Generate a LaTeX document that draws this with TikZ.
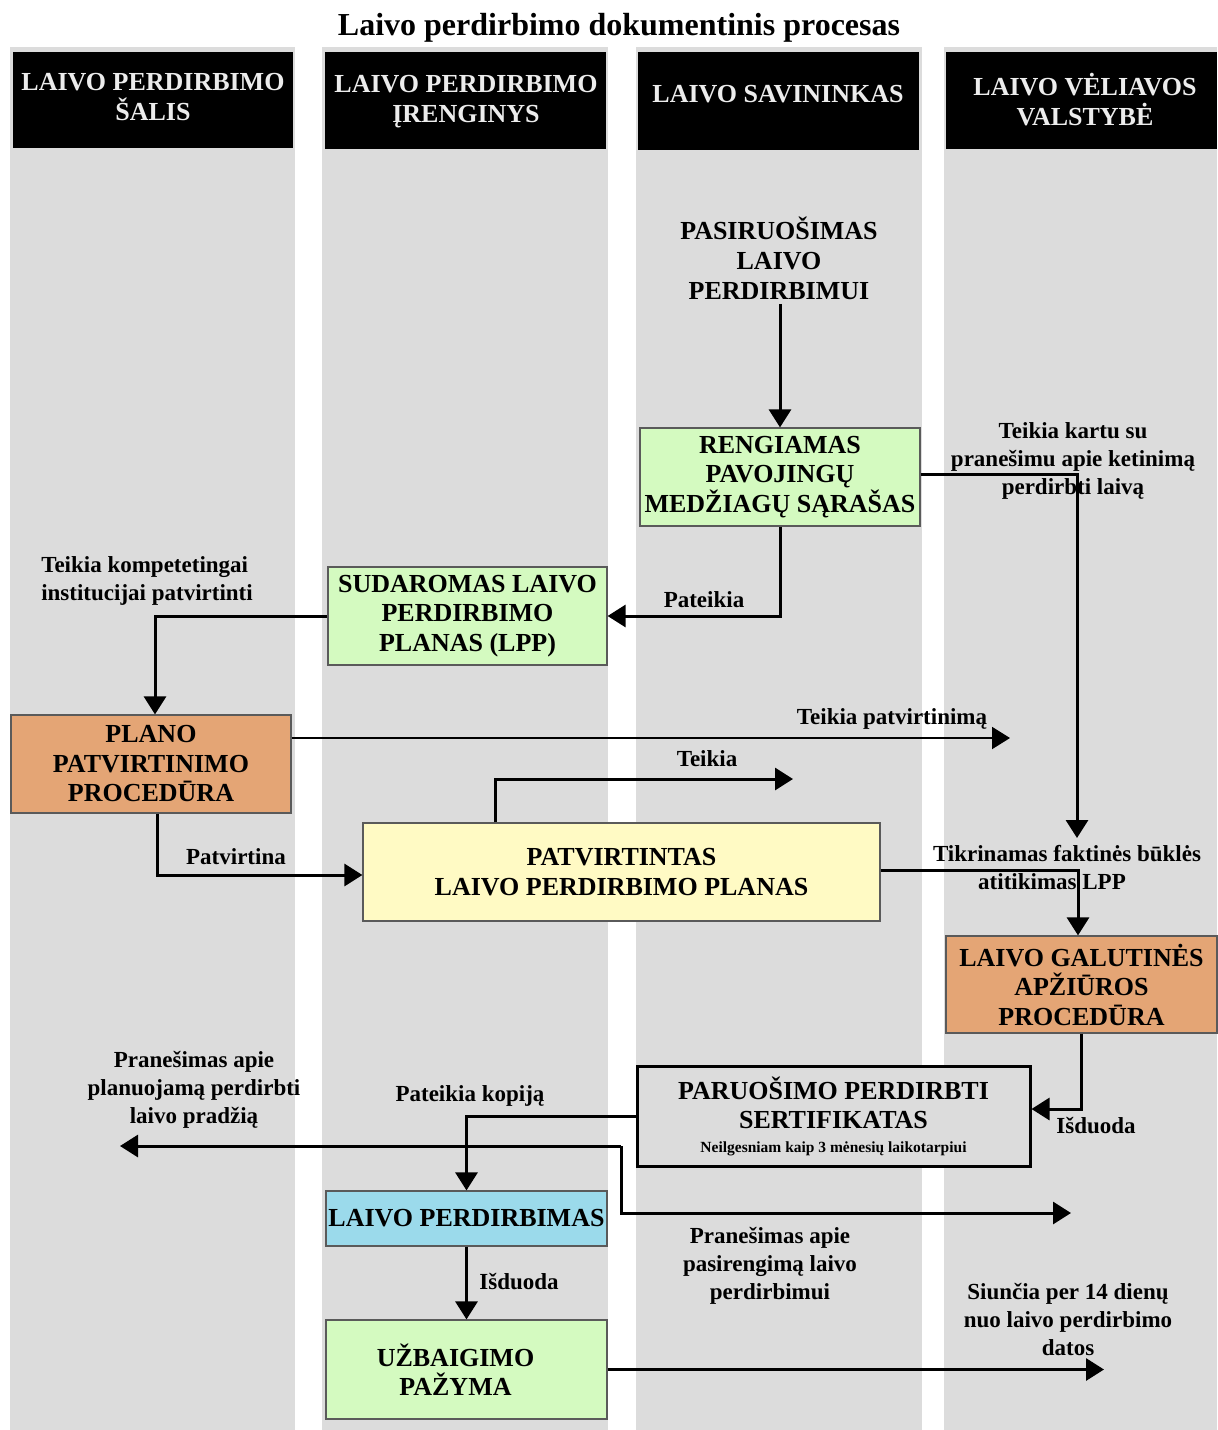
\documentclass[tikz,border=0pt]{standalone}
\usepackage{fontspec}
\setmainfont{Liberation Serif}
\usetikzlibrary{arrows.meta}
\definecolor{lanegray}{RGB}{220,220,220}
\definecolor{boxgreen}{RGB}{212,250,192}
\definecolor{boxorange}{RGB}{228,165,117}
\definecolor{boxyellow}{RGB}{255,250,196}
\definecolor{boxblue}{RGB}{155,218,235}
\definecolor{boxline}{RGB}{90,90,90}
\definecolor{headtext}{RGB}{236,236,236}
\begin{document}
\begin{tikzpicture}[x=0.5pt,y=-0.5pt,
  hdr/.style={fill=black,inner sep=0pt},
  hdrtext/.style={text=headtext,font=\bfseries\fontsize{13}{15}\selectfont,align=center,inner sep=0pt},
  procbox/.style={draw=boxline,line width=0.6pt,align=center,font=\bfseries\fontsize{13}{14.75}\selectfont,inner sep=0pt},
  plaintext/.style={align=center,font=\bfseries\fontsize{13}{15}\selectfont,inner sep=0pt},
  lbl/.style={font=\bfseries\fontsize{11.5}{14}\selectfont,align=center,inner sep=0pt},
  flow/.style={line width=1.5pt,-{Triangle[width=11pt,length=9pt]}},
  thinflow/.style={line width=1pt,-{Triangle[width=11pt,length=9pt]}}
]
\useasboundingbox (0,0) rectangle (1217,1430);
\fill[white] (0,0) rectangle (1217,1430);
% lanes
\fill[lanegray] (10,47) rectangle (295,1430);
\fill[lanegray] (322,47) rectangle (608,1430);
\fill[lanegray] (636,47) rectangle (922,1430);
\fill[lanegray] (944,47) rectangle (1217,1430);
% title
\node[font=\bfseries\fontsize{16}{18}\selectfont,inner sep=0pt] (title) at (619,28) {Laivo perdirbimo dokumentinis procesas};
% headers
\node[hdr,minimum width=140pt,minimum height=48pt] (h1) at (153,100) {};
\node[hdr,minimum width=140.5pt,minimum height=48.5pt] (h2) at (465.5,100.5) {};
\node[hdr,minimum width=140.5pt,minimum height=49pt] (h3) at (778.5,101) {};
\node[hdr,minimum width=135.5pt,minimum height=48.5pt] (h4) at (1081.5,100.5) {};
\node[hdrtext] (t1) at (153,97) {LAIVO PERDIRBIMO\\ŠALIS};
\node[hdrtext] (t2) at (466,102) {LAIVO PERDIRBIMO\\ĮRENGINYS};
\node[hdrtext] (t3) at (778,94) {LAIVO SAVININKAS};
\node[hdrtext] (t4) at (1085,100) {LAIVO VĖLIAVOS\\VALSTYBĖ};
% process boxes
\node[plaintext] (pasir) at (779,258) {PASIRUOŠIMAS\\LAIVO\\PERDIRBIMUI};
\node[procbox,fill=boxgreen,minimum width=140pt,minimum height=49pt] (reng) at (780,477) {RENGIAMAS\\PAVOJINGŲ\\MEDŽIAGŲ SĄRAŠAS};
\node[procbox,fill=boxgreen,minimum width=139.5pt,minimum height=49pt] (sudar) at (467.5,616) {SUDAROMAS LAIVO\\PERDIRBIMO\\PLANAS (LPP)};
\node[procbox,fill=boxorange,minimum width=140pt,minimum height=49pt] (plano) at (151,764) {PLANO\\PATVIRTINIMO\\PROCEDŪRA};
\node[procbox,fill=boxyellow,minimum width=258.5pt,minimum height=49pt] (patv) at (621.5,872) {PATVIRTINTAS\\LAIVO PERDIRBIMO PLANAS};
\node[procbox,fill=boxorange,minimum width=135.5pt,minimum height=48.5pt] (galut) at (1081.5,984.5) {LAIVO GALUTINĖS\\APŽIŪROS\\PROCEDŪRA};
\node[procbox,draw=black,line width=1.5pt,fill=lanegray,minimum width=196.5pt,minimum height=50pt] (sert) at (833.5,1116) {PARUOŠIMO PERDIRBTI\\SERTIFIKATAS\\[-3pt]{\fontsize{7.75}{9}\selectfont Neilgesniam kaip 3 mėnesių laikotarpiui}};
\node[procbox,fill=boxblue,minimum width=140.5pt,minimum height=27.5pt] (perd) at (466.5,1218.5) {LAIVO PERDIRBIMAS};
\node[procbox,fill=boxgreen,minimum width=140.5pt,minimum height=49.5pt] (uzb) at (466.5,1369.5) {\hspace*{-11pt}UŽBAIGIMO\\\hspace*{-11pt}PAŽYMA};
% labels
\node[lbl] (l1) at (1073,461) {Teikia kartu su\\pranešimu apie ketinimą\\perdirbti laivą};
\node[lbl] (l2) at (704,600) {Pateikia};
\node[lbl,align=left] (l3) at (147,581) {Teikia kompetetingai\\institucijai patvirtinti};
\node[lbl] (l4) at (892,719) {Teikia patvirtinimą};
\node[lbl] (l5) at (707,759) {Teikia};
\node[lbl] (l6) at (236,857) {Patvirtina};
\node[lbl] (l7) at (1067,868) {Tikrinamas faktinės būklės\\atitikimas LPP\hspace*{15pt}};
\node[lbl] (l8) at (1096,1126) {Išduoda};
\node[lbl] (l9) at (470,1096) {Pateikia kopiją};
\node[lbl] (l10) at (194,1090) {Pranešimas apie\\planuojamą perdirbti\\laivo pradžią};
\node[lbl] (l11) at (770,1266) {Pranešimas apie\\pasirengimą laivo\\perdirbimui};
\node[lbl] (l12) at (519,1282) {Išduoda};
\node[lbl] (l13) at (1068,1319) {Siunčia per 14 dienų\\nuo laivo perdirbimo\\datos};
% free ends
\coordinate (e1) at (1077,838);
\coordinate (e2) at (1010,738);
\coordinate (e3) at (793,779);
\coordinate (fk1) at (621,1146);
\coordinate (fk2) at (621,1213);
\coordinate (eL) at (120,1146);
\coordinate (eR) at (1071,1213);
\coordinate (eU) at (1104,1368);
% connectors
\draw[flow] ([yshift=-2pt]reng.north |- pasir.south) -- (reng.north);
\draw[flow] ([yshift=1.5pt]reng.east) -| (e1);
\draw[flow] (reng.south) |- (sudar.east);
\draw[flow] (sudar.west) -| ([xshift=2pt]plano.north);
\draw[thinflow] (plano.east |- e2) -- (e2);
\draw[flow] ([xshift=-63.25pt]patv.north) |- (e3);
\draw[flow] ([xshift=3pt]plano.south) |- ([yshift=-1.5pt]patv.west);
\draw[flow] ([yshift=1pt]patv.east) -| ([xshift=-1.75pt]galut.north);
\draw[flow] (galut.south) |- ([yshift=3.5pt]sert.east);
\draw[flow] (sert.west) -| (perd.north);
\draw[flow] (fk1) -- (eL);
\draw[flow] (fk1) -- (fk2) -- (eR);
\draw[flow] (perd.south) -- (uzb.north);
\draw[flow] (uzb.east) -- (uzb.east -| eU);
\end{tikzpicture}
\end{document}
